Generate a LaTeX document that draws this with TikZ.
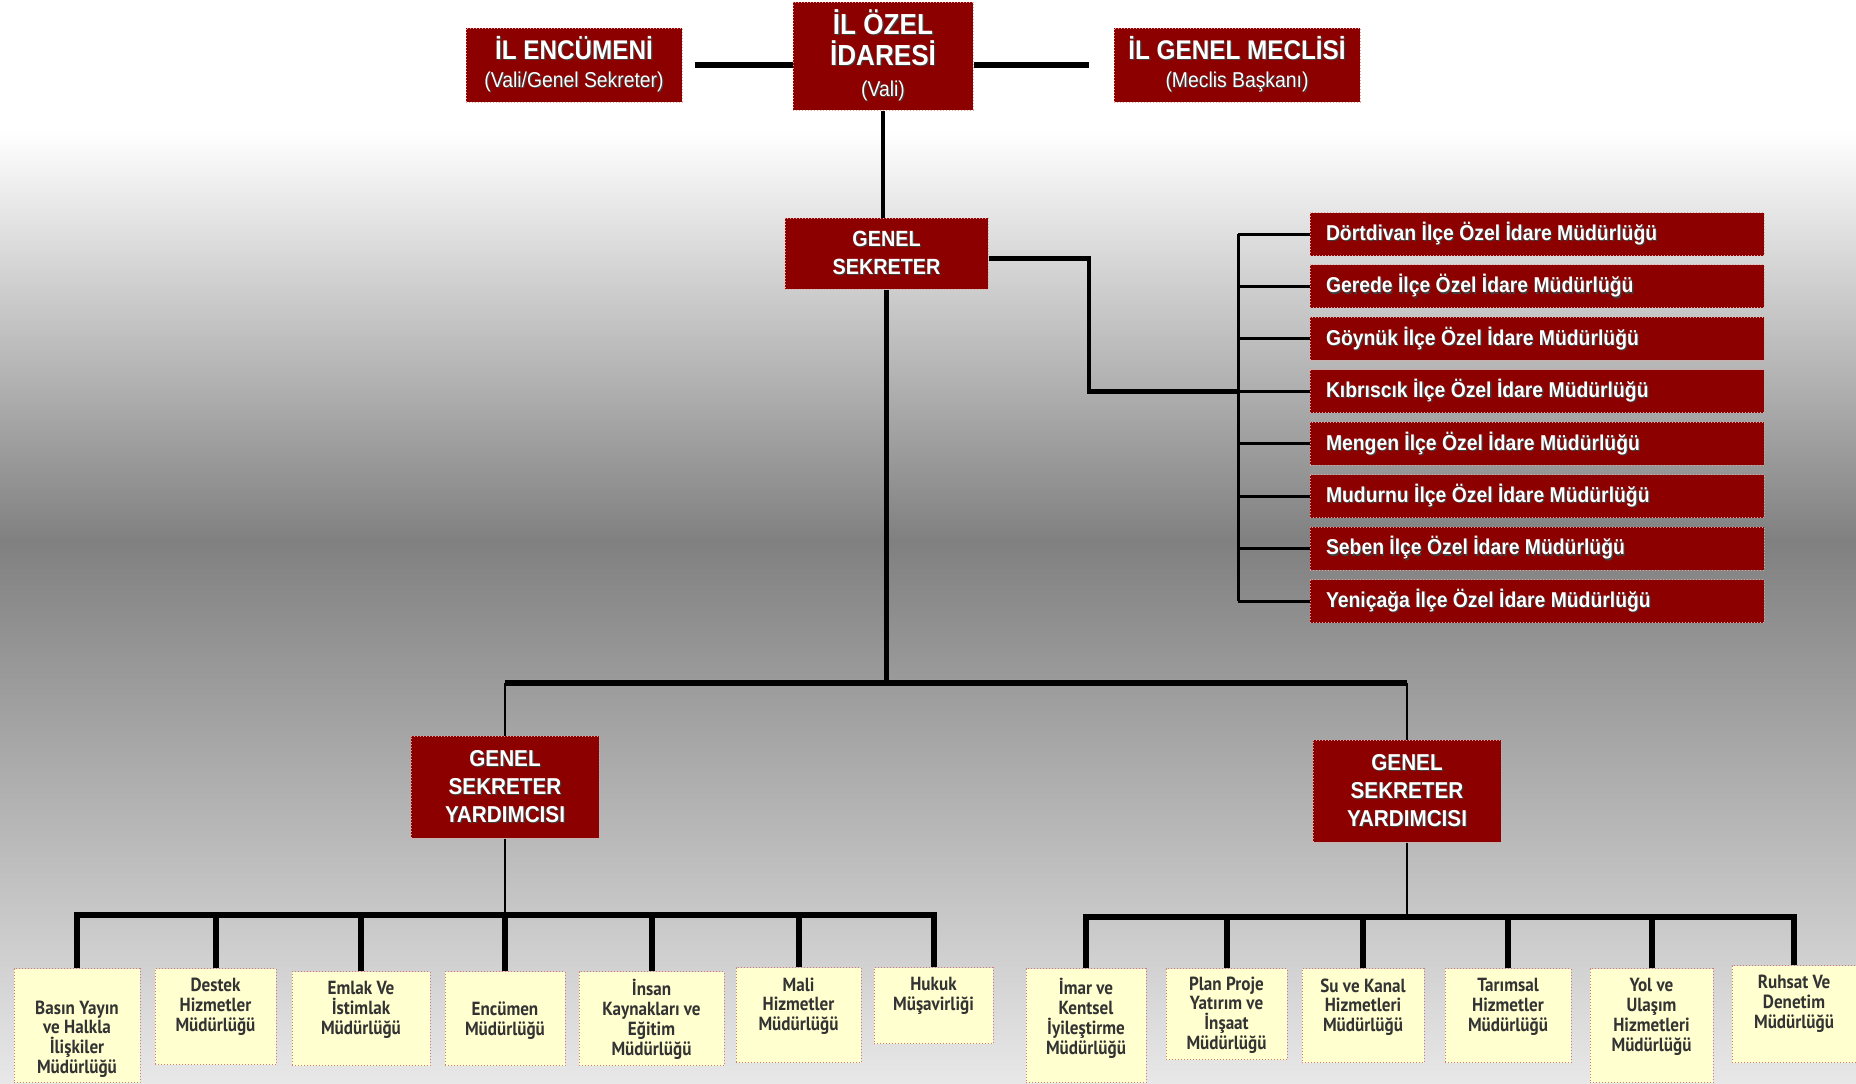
\documentclass[tikz,border=0pt]{standalone}
\usepackage{fontspec}
\setmainfont{Liberation Sans}[FakeStretch=0.9]
\newfontfamily\birimfont{PT Sans}[FakeStretch=0.9]
\definecolor{koyukirmizi}{RGB}{140,0,0}
\definecolor{pembe}{RGB}{235,160,160}
\definecolor{sari}{RGB}{255,255,208}
\definecolor{sarikenar}{RGB}{210,120,120}
\definecolor{arka}{RGB}{128,128,128}
\definecolor{arkaalt}{RGB}{232,232,232}
% golgeli beyaz yazi
\newcommand{\golge}[1]{\leavevmode\rlap{\kern1.3pt\raisebox{-1.3pt}{\color{black!75}#1}}#1}
% sari kutu ici: genislik, yukseklik, ust bosluk, yazi
\newcommand{\ic}[4]{\parbox[t][#2pt][t]{#1pt}{\centering\vspace*{#3pt}#4}}
\begin{document}
\begin{tikzpicture}[x=1pt,y=-1pt,
  kutu/.style={fill=koyukirmizi,draw=pembe,dotted,line width=1pt,text=white,
    inner sep=0pt,align=center},
  ilce/.style={kutu,minimum width=454pt,minimum height=43pt,
    font=\bfseries\fontsize{21.5}{24}\selectfont},
  birim/.style={fill=sari,draw=sarikenar,dotted,line width=1pt,inner sep=0pt,
    anchor=north,text=black!80,font=\birimfont\bfseries\fontsize{19}{19.8}\selectfont},
  kalin/.style={line width=6.5pt},
  orta/.style={line width=4.5pt},
  ince/.style={line width=3pt},
  cizgi/.style={line width=2pt},
  bus/.style={line width=6pt}]
\useasboundingbox (0,0) rectangle (1856,1084);
% arka plan
\fill[white] (0,0) rectangle (1856,131);
\shade[top color=white,bottom color=arka] (0,130) rectangle (1856,541);
\shade[top color=arka,bottom color=arkaalt] (0,540) rectangle (1856,1084);

% ust sira
\node[kutu,minimum width=180pt,minimum height=108pt,
  font=\bfseries\fontsize{29}{31}\selectfont] (ozel) at (883,56)
  {\golge{İL ÖZEL}\\\golge{İDARESİ}\\{\mdseries\fontsize{21.5}{31}\selectfont\golge{(Vali)}}};
\node[kutu,minimum width=216pt,minimum height=74pt,
  font=\bfseries\fontsize{27}{28}\selectfont] (encumen) at (574,65)
  {\golge{İL ENCÜMENİ}\\{\mdseries\fontsize{21.5}{28}\selectfont\golge{(Vali/Genel Sekreter)}}};
\node[kutu,minimum width=246pt,minimum height=74pt,
  font=\bfseries\fontsize{27}{28}\selectfont] (meclis) at (1237,65)
  {\golge{İL GENEL MECLİSİ}\\{\mdseries\fontsize{21.5}{28}\selectfont\golge{(Meclis Başkanı)}}};
\draw[bus,shorten >=12pt] (encumen.east -| ozel.west) -- (encumen.east);
\draw[bus,shorten >=25pt] (meclis.west -| ozel.east) -- (meclis.west);

% genel sekreter
\node[kutu,minimum width=203pt,minimum height=71pt,
  font=\bfseries\fontsize{22}{28}\selectfont] (gs) at (886.5,253.5)
  {\golge{GENEL}\\\golge{SEKRETER}};
\draw[orta] (ozel.south) -- (ozel.south |- gs.north);

% ilce ozel idare mudurlukleri
\foreach \ad [count=\i] in {Dörtdivan İlçe Özel İdare Müdürlüğü,
  Gerede İlçe Özel İdare Müdürlüğü,Göynük İlçe Özel İdare Müdürlüğü,
  Kıbrıscık İlçe Özel İdare Müdürlüğü,Mengen İlçe Özel İdare Müdürlüğü,
  Mudurnu İlçe Özel İdare Müdürlüğü,Seben İlçe Özel İdare Müdürlüğü,
  Yeniçağa İlçe Özel İdare Müdürlüğü}
  \node[ilce] (d\i) at (1537,{234+52.43*(\i-1)}) {\makebox[422pt][l]{\golge{\ad}}};
\coordinate (sbus) at (1238,0);
\coordinate (kirik) at (1089,0);
\coordinate (gsout) at ([yshift=-5pt]gs.east);
\draw[ince] (d1.west -| sbus) -- (d8.west -| sbus);
\foreach \i in {1,...,8}
  \draw[ince] (d\i.west) -- (d\i.west -| sbus);
\draw[orta] (gsout) -- (gsout -| kirik) |- (d4.west -| sbus);

% yardimcilar
\node[kutu,minimum width=188pt,minimum height=102pt,
  font=\bfseries\fontsize{23}{28}\selectfont] (gsyL) at (505,787)
  {\golge{GENEL}\\\golge{SEKRETER}\\\golge{YARDIMCISI}};
\node[kutu,minimum width=188pt,minimum height=102pt,
  font=\bfseries\fontsize{23}{28}\selectfont] (gsyR) at (1407,791)
  {\golge{GENEL}\\\golge{SEKRETER}\\\golge{YARDIMCISI}};
\coordinate (anabus) at (0,683);
\draw[orta] (gs.south) -- (gs.south |- anabus);
\draw[kalin] (gsyL.north |- anabus) -- (gsyR.north |- anabus);
\draw[cizgi] (gsyL.north) -- (gsyL.north |- anabus);
\draw[cizgi] (gsyR.north) -- (gsyR.north |- anabus);

% sol mudurlukler
\node[birim] (a1) at (77,968) {\ic{126}{114}{32}{Basın Yayın\\ve Halkla\\İlişkiler\\Müdürlüğü}};
\node[birim] (a2) at (215.5,968) {\ic{121}{96}{10}{Destek\\Hizmetler\\Müdürlüğü}};
\node[birim] (a3) at (361,971) {\ic{138}{94}{10}{Emlak Ve\\İstimlak\\Müdürlüğü}};
\node[birim] (a4) at (505,971) {\ic{120}{94}{30}{Encümen\\Müdürlüğü}};
\node[birim] (a5) at (651.5,971) {\ic{145}{94}{8}{İnsan\\Kaynakları ve\\Eğitim\\Müdürlüğü}};
\node[birim] (a6) at (798.5,967) {\ic{125}{95}{10}{Mali\\Hizmetler\\Müdürlüğü}};
\node[birim] (a7) at (933.5,967) {\ic{119}{76}{10}{Hukuk\\Müşavirliği}};
\coordinate (solbus) at (0,915);
\draw[cizgi] (gsyL.south) -- (gsyL.south |- solbus);
\draw[bus] (a1.north) -- (a1.north |- solbus) -- (a7.north |- solbus) -- (a7.north);
\foreach \i in {2,...,6}
  \draw[bus] (a\i.north) -- (a\i.north |- solbus);

% sag mudurlukler
\node[birim] (b1) at (1086,968) {\ic{120}{114}{10}{İmar ve\\Kentsel\\İyileştirme\\Müdürlüğü}};
\node[birim] (b2) at (1226.5,968) {\ic{121}{91}{8}{Plan Proje\\Yatırım ve\\İnşaat\\Müdürlüğü}};
\node[birim] (b3) at (1363,968) {\ic{122}{94}{10}{Su ve Kanal\\Hizmetleri\\Müdürlüğü}};
\node[birim] (b4) at (1508,968) {\ic{126}{94}{10}{Tarımsal\\Hizmetler\\Müdürlüğü}};
\node[birim] (b5) at (1651.5,968) {\ic{123}{114}{10}{Yol ve\\Ulaşım\\Hizmetleri\\Müdürlüğü}};
\node[birim] (b6) at (1794,965) {\ic{124}{97}{10}{Ruhsat Ve\\Denetim\\Müdürlüğü}};
\coordinate (sagbus) at (0,917);
\draw[cizgi] (gsyR.south) -- (gsyR.south |- sagbus);
\draw[bus] (b1.north) -- (b1.north |- sagbus) -- (b6.north |- sagbus) -- (b6.north);
\foreach \i in {2,...,5}
  \draw[bus] (b\i.north) -- (b\i.north |- sagbus);
\end{tikzpicture}
\end{document}
